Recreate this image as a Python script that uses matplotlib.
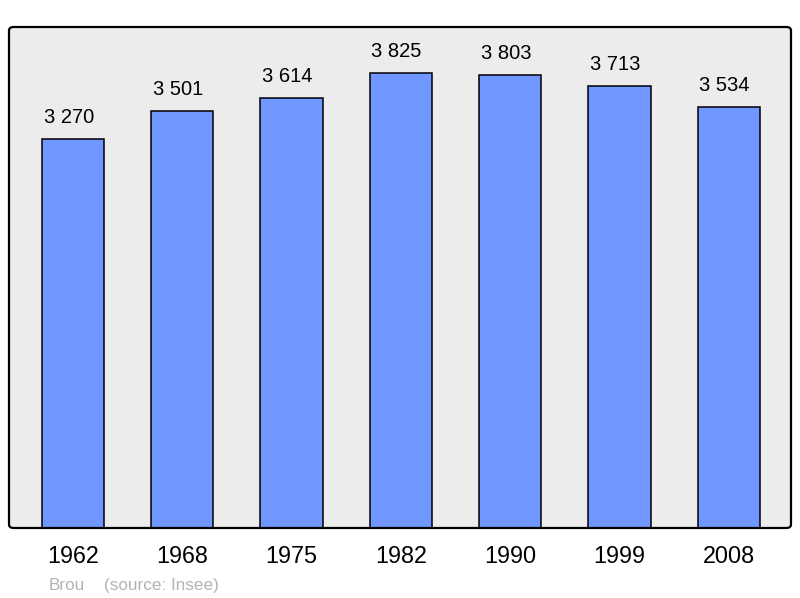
#!/usr/bin/env python3

import matplotlib

matplotlib.use("Agg")
import matplotlib.pyplot as plt
from matplotlib.patches import FancyBboxPatch


YEARS = ["1962", "1968", "1975", "1982", "1990", "1999", "2008"]
POPULATION = [3270, 3501, 3614, 3825, 3803, 3713, 3534]
TOWN = "Brou"
SOURCE = "(source: Insee)"


def fmt(value: int) -> str:
    return f"{value:,}".replace(",", " ")


def main() -> int:
    plt.rcParams["font.family"] = ["Liberation Sans", "DejaVu Sans"]
    fig = plt.figure(figsize=(8, 5.98), dpi=100)
    left, bottom = 9 / 800, 70 / 598
    width, height = 782 / 800, 501 / 598
    ax = fig.add_axes([left, bottom, width, height])
    ax.set_facecolor("#ececec")

    positions = list(range(len(YEARS)))
    ax.bar(positions, POPULATION, width=0.57, color="#7096ff",
           edgecolor="black", linewidth=1.1, zorder=2)
    for pos, value in zip(positions, POPULATION):
        ax.annotate(fmt(value), (pos, value), xytext=(-3, 11.5),
                    textcoords="offset points", ha="center", va="baseline",
                    fontsize=14.5, color="black")

    ax.set_xlim(-0.585, 6.57)
    ax.set_ylim(0, max(POPULATION) * 1.1)
    ax.set_yticks([])
    ax.set_xticks(positions, YEARS, fontsize=16.8)
    ax.tick_params(axis="x", length=0, pad=12)
    for spine in ax.spines.values():
        spine.set_visible(False)

    frame = FancyBboxPatch((left, bottom), width, height,
                           boxstyle="round,pad=0,rounding_size=0.006",
                           transform=fig.transFigure, facecolor="none",
                           edgecolor="black", linewidth=1.6, zorder=5)
    fig.patches.append(frame)

    fig.text(49 / 800, 1 - 590 / 598, TOWN, fontsize=12.3, color="#b3b3b3",
             ha="left", va="baseline")
    fig.text(104 / 800, 1 - 590 / 598, SOURCE, fontsize=12.3, color="#b3b3b3",
             ha="left", va="baseline")

    fig.savefig("out.png", dpi=100)
    plt.close(fig)
    return 0


if __name__ == "__main__":
    raise SystemExit(main())
